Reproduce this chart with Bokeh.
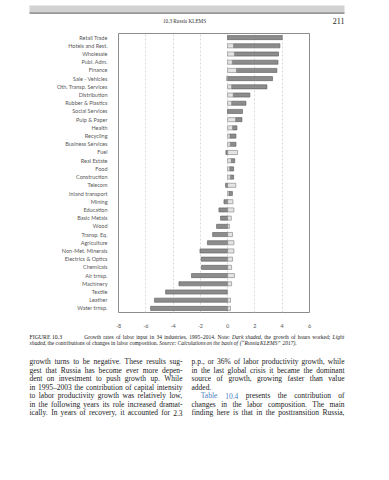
from bokeh.plotting import figure
from bokeh.models import ColumnDataSource, FactorRange, Range1d, FixedTicker
from bokeh.layouts import column
from bokeh.embed import file_html
from bokeh.resources import INLINE
from bokeh.core.properties import value

# ---------------- data ----------------
industries = ["Retail Trade", "Hotels and Rest.", "Wholesale", "Publ. Adm.", "Finance",
              "Sale - Vehicles", "Oth. Transp. Services", "Distribution", "Rubber & Plastics",
              "Social Services", "Pulp & Paper", "Health", "Recycling", "Business Services",
              "Fuel", "Real Estate", "Food", "Construction", "Telecom", "Inland transport",
              "Mining", "Education", "Basic Metals", "Wood", "Transp. Eq.", "Agriculture",
              "Non-Met. Minerals", "Electrics & Optics", "Chemicals", "Air trnsp.",
              "Machinery", "Textile", "Leather", "Water trnsp."]
# dark shaded: growth of hours worked
hours = [4.00, 3.40, 3.23, 3.35, 2.96, 3.29, 2.59, 1.22, 1.05, 1.09, 0.47, 0.32, 0.44, 0.42,
         -0.13, 0.26, 0.29, 0.24, -0.15, 0.25, -0.27, -0.64, -0.52, -0.81, -1.10, -1.48,
         -2.03, -1.94, -1.92, -2.65, -3.57, -4.50, -5.36, -5.65]
# light shaded: contribution of changes in labor composition
composition = [0.00, 0.43, 0.50, 0.34, 0.65, -0.08, 0.29, 0.41, 0.29, 0.00, 0.58, 0.36, 0.17,
               0.19, 0.73, 0.26, 0.15, 0.20, 0.60, 0.10, 0.39, 0.46, 0.27, 0.13, 0.36, 0.46,
               0.46, 0.36, 0.29, 0.50, 0.29, -0.05, 0.21, 0.21]
x_ticks = [-8, -6, -4, -2, 0, 2, 4, 6]

header_left = "10.3 Russia KLEMS"
header_page = "211"
caption_label = "FIGURE 10.3"
caption_line1 = [("Growth rates of labor input in 34 industries, 1995–2014. Note:", "normal"),
                 ("Dark shaded,", "italic"), ("the growth of hours worked;", "normal"),
                 ("Light", "italic")]
caption_line2 = [("shaded,", "italic"),
                 ("the contributions of changes in labor composition.", "normal"),
                 ("Source: Calculations on the basis of (“Russia KLEMS” 2017).", "italic")]
left_col = ["growth turns to be negative. These results sug-",
            "gest that Russia has become ever more depen-",
            "dent on investment to push growth up. While",
            "in 1995–2003 the contribution of capital intensity",
            "to labor productivity growth was relatively low,",
            "in the following years its role increased dramat-",
            "ically. In years of recovery, it accounted for 2.3"]
right_col = ["p.p., or 36% of labor productivity growth, while",
             "in the last global crisis it became the dominant",
             "source of growth, growing faster than value",
             "added.",
             "Table 10.4 presents the contribution of",
             "changes in the labor composition. The main",
             "finding here is that in the posttransition Russia,"]

# ---------------- stacking (light first, then dark) ----------------
light_left = [min(0.0, c) for c in composition]
light_right = [max(0.0, c) for c in composition]
dark_left, dark_right = [], []
for h, c in zip(hours, composition):
    base = c if h * c > 0 else 0.0
    dark_left.append(min(base, base + h))
    dark_right.append(max(base, base + h))

W = 373
SERIF = value("Liberation Serif")

# ---------------- header ----------------
hdr = figure(width=W, height=32, x_range=Range1d(0, W), y_range=Range1d(32, 0),
             output_backend="svg", toolbar_location=None, min_border=0,
             x_axis_location=None, y_axis_location=None, outline_line_color=None,
             frame_align=False)
hdr.grid.visible = False
hdr.quad(left=[29], right=[344], top=[5], bottom=[12.3], fill_color="#d2d2d2", line_color=None)
hdr.segment(x0=[29], x1=[344], y0=[12.6], y1=[12.6], line_color="#555555", line_width=1)
hdr.text(x=[184], y=[20.5], text=[header_left], text_font=SERIF, text_font_size="5.2px",
         text_align="center", text_baseline="middle", text_color="#333333")
hdr.text(x=[344], y=[20.5], text=[header_page], text_font=SERIF, text_font_size="8px",
         text_align="right", text_baseline="middle", text_color="#222222")

# ---------------- chart ----------------
src = ColumnDataSource(dict(ind=industries, ll=light_left, lr=light_right,
                            dl=dark_left, dr=dark_right))
p = figure(width=W, height=298, y_range=FactorRange(factors=list(reversed(industries))),
           x_range=Range1d(x_ticks[0], x_ticks[-1]), output_backend="svg",
           toolbar_location=None, min_border_left=118, min_border_right=64,
           min_border_top=1, min_border_bottom=13, frame_align=False)
p.outline_line_color = "#8c8c8c"
p.hbar(y="ind", left="dl", right="dr", height=0.5, source=src,
       fill_color="#8c8c8c", line_color="#5a5a5a", line_width=0.6)
p.hbar(y="ind", left="ll", right="lr", height=0.5, source=src,
       fill_color="#e4e4e4", line_color="#7f7f7f", line_width=0.6)
p.xaxis.ticker = FixedTicker(ticks=x_ticks)
p.xaxis.major_label_overrides = {t: str(t) for t in x_ticks}
p.xgrid.ticker = FixedTicker(ticks=x_ticks)
p.xgrid.grid_line_color = "#d9d9d9"
p.xgrid.grid_line_dash = "2 2"
p.ygrid.visible = False
for ax in (p.xaxis, p.yaxis):
    ax.axis_line_color = None
    ax.major_tick_line_color = None
    ax.minor_tick_line_color = None
    ax.major_label_text_font = "Lato"
    ax.major_label_text_font_size = "5.5px"
    ax.major_label_text_color = "#595959"
    ax.major_label_standoff = 5

# ---------------- caption + body ----------------
TW = {' ': 250, '!': 333, '"': 408, '%': 833, '&': 778, "'": 180, '(': 333, ')': 333,
      ',': 250, '-': 333, '.': 250, '/': 278, ':': 278, ';': 278, '?': 444,
      '–': 500, '“': 444, '”': 444, '’': 333}
TW.update({d: 500 for d in "0123456789"})
TW.update(dict(zip("ABCDEFGHIJKLMNOPQRSTUVWXYZ",
                   [722, 667, 667, 722, 611, 556, 722, 722, 333, 389, 722, 611, 889, 722, 722,
                    556, 722, 667, 556, 611, 722, 722, 944, 722, 722, 611])))
TW.update(dict(zip("abcdefghijklmnopqrstuvwxyz",
                   [444, 500, 444, 500, 444, 333, 500, 500, 278, 278, 500, 278, 778, 500, 500,
                    500, 500, 333, 389, 278, 500, 500, 722, 500, 500, 444])))


def tw(s, fs):
    return sum(TW.get(ch, 500) for ch in s) * fs / 1000.0


groups = {}


def put(word, x, y, fs, style="normal", color="#1a1a1a"):
    key = (fs, style, color)
    g = groups.setdefault(key, dict(x=[], y=[], text=[]))
    g["x"].append(x)
    g["y"].append(y)
    g["text"].append(word)


def line_out(words, x0, x1, y, fs, justify=True):
    widths = [tw(w, fs) for w, _, _ in words]
    if justify and len(words) > 1:
        gap = (x1 - x0 - sum(widths)) / (len(words) - 1)
    else:
        gap = tw(" ", fs)
    x = x0
    for (w, st, col), wd in zip(words, widths):
        put(w, x, y, fs, st, col)
        x += wd + gap


def split(segs, color="#1a1a1a"):
    out = []
    for s, st in segs:
        out += [(w, st, color) for w in s.split(" ")]
    return out


CF = 5.5
put(caption_label, 29, 6, 5.8, "normal", "#1a1a1a")
line_out(split(caption_line1), 83.7, 344, 6, CF, True)
line_out(split(caption_line2), 29, 344, 12.6, CF, False)

BF = 7.5
ys = [31, 39.5, 48, 56.5, 65, 73.5, 82]
for i, ln in enumerate(left_col):
    line_out(split([(ln, "normal")]), 29, 182, ys[i], BF, True)
for i, ln in enumerate(right_col):
    if ln.startswith("Table 10.4"):
        ws = [("Table", "normal", "#4a80c4"), ("10.4", "normal", "#4a80c4")] + \
             split([(ln[len("Table 10.4 "):], "normal")])
        line_out(ws, 200.3, 344, ys[i], BF, True)
    elif ln == "added.":
        line_out(split([(ln, "normal")]), 191, 344, ys[i], BF, False)
    else:
        line_out(split([(ln, "normal")]), 191, 344, ys[i], BF, True)

bot = figure(width=W, height=133, x_range=Range1d(0, W), y_range=Range1d(133, 0),
             output_backend="svg", toolbar_location=None, min_border=0,
             x_axis_location=None, y_axis_location=None, outline_line_color=None,
             frame_align=False)
bot.grid.visible = False
for (fs, st, col), g in groups.items():
    bot.text(x="x", y="y", text="text", source=ColumnDataSource(g), text_font=SERIF,
             text_font_size=f"{fs}px", text_font_style=st, text_color=col,
             text_align="left", text_baseline="middle")

layout = column(hdr, p, bot, spacing=0)
open("out.html", "w").write(file_html(layout, INLINE))
